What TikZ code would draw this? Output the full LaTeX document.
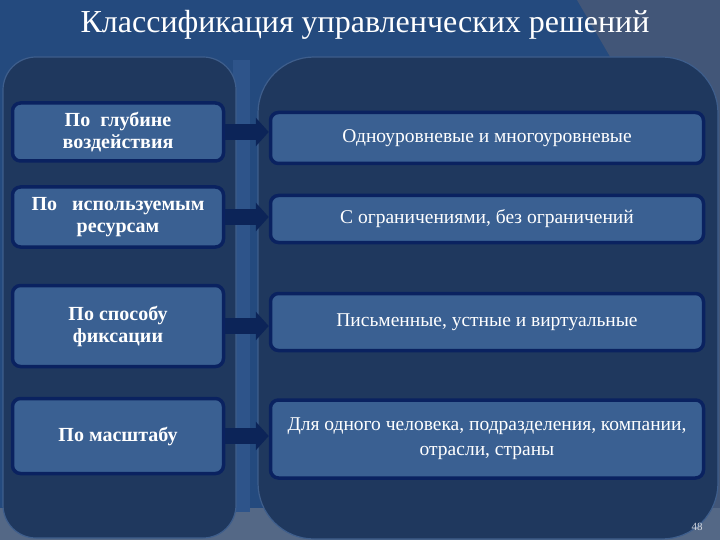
\documentclass[tikz,border=0pt]{standalone}
\usepackage{fontspec}
\setmainfont{Liberation Serif}
\usetikzlibrary{arrows.meta, positioning}
\definecolor{slidebg}{RGB}{36,74,126}
\definecolor{slidegray}{RGB}{66,86,120}
\definecolor{slidefloor}{RGB}{84,104,134}
\definecolor{panelbg}{RGB}{31,56,94}
\definecolor{panelrim}{RGB}{62,94,140}
\definecolor{boxbg}{RGB}{58,96,146}
\definecolor{boxrim}{RGB}{10,34,96}
\definecolor{arrbg}{RGB}{12,36,88}
\definecolor{stripebg}{RGB}{46,84,138}

\begin{document}
\begin{tikzpicture}[
  x=1pt, y=-1pt,
  panel/.style={fill=panelbg, draw=panelrim, line width=1.2pt},
  lbox/.style={draw=boxrim, fill=boxbg, line width=3.5pt, rounded corners=8pt,
    minimum width=211pt, align=center, text=white, font=\fontsize{20}{22}\selectfont\bfseries},
  rbox/.style={draw=boxrim, fill=boxbg, line width=3.5pt, rounded corners=8pt,
    minimum width=433pt, align=center, text=white, font=\fontsize{19.5}{25}\selectfont},
  arr/.style={draw=arrbg, line width=16pt, -{Triangle[width=28pt, length=13pt]}}
]
  % background of the slide
  \fill[slidebg] (0,0) rectangle (720,540);
  \fill[slidegray] (577,0) -- (612,60) -- (720,60) -- (720,0) -- cycle;
  \fill[slidegray] (612,60) rectangle (720,540);
  \fill[slidefloor] (0,508) rectangle (720,540);
  \fill[stripebg] (233,60) rectangle (250,512);

  % title
  \node[text=white, font=\fontsize{32}{36}\selectfont] (title) at (365,25) {Классификация управленческих решений};

  % two panels
  \draw[panel, rounded corners=33pt] (3,57) rectangle (236,538);
  \draw[panel, rounded corners=56pt] (258,57) rectangle (718,539);

  % criteria
  \node[lbox, minimum height=58pt] (depth) at (118,132) {По~ глубине\\воздействия};
  \node[lbox, minimum height=60pt] (res) at (118,217) {По~~ используемым\\ресурсам};
  \node[lbox, minimum height=81pt] (fix) at (118,326) {По способу\\фиксации};
  \node[lbox, minimum height=75pt] (scale) at (118,436) {По масштабу};

  % kinds
  \node[rbox, minimum height=51pt] (lvl) at (487,138) {Одноуровневые и многоуровневые};
  \node[rbox, minimum height=47pt] (lim) at (487,219) {С ограничениями, без ограничений};
  \node[rbox, minimum height=57pt] (form) at (487,322) {Письменные, устные и виртуальные};
  \node[rbox, minimum height=78pt] (who) at (487,439) {Для одного человека, подразделения, компании,\\отрасли, страны};

  % arrows
  \draw[arr] (depth.east) -- (depth.east -| lvl.west);
  \draw[arr] (res.east) -- (res.east -| lim.west);
  \draw[arr] (fix.east) -- (fix.east -| form.west);
  \draw[arr] (scale.east) -- (scale.east -| who.west);

  % page number
  \node[text=white!75!slidefloor, font=\fontsize{11}{12}\selectfont] (page) at (697,527) {48};
\end{tikzpicture}
\end{document}
